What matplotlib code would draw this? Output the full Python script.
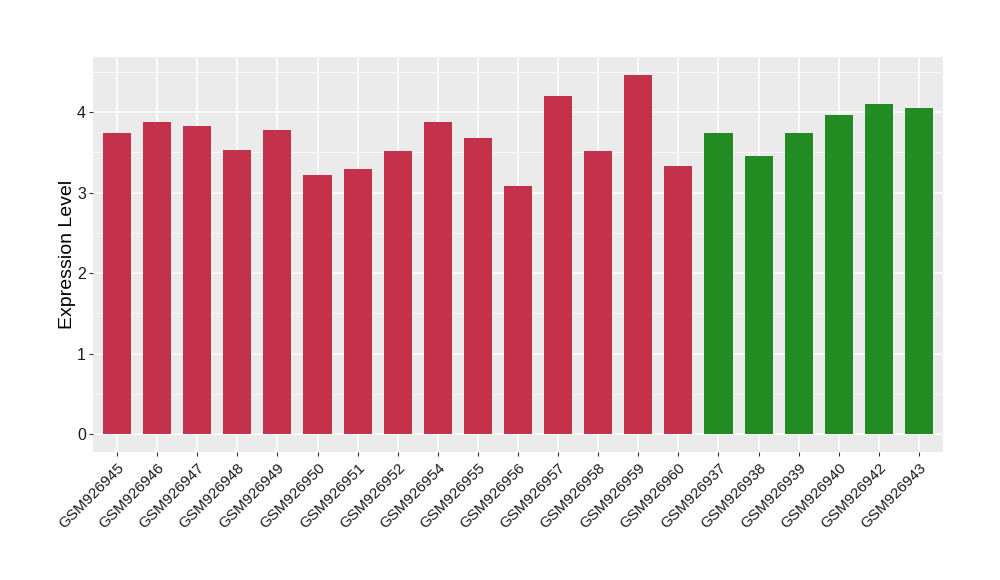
import numpy as np
import matplotlib
matplotlib.use('Agg')
import matplotlib.pyplot as plt

plt.rcParams['font.family'] = ['Liberation Sans', 'DejaVu Sans']

# samples and expression values
samples = ['GSM926945', 'GSM926946', 'GSM926947', 'GSM926948', 'GSM926949',
           'GSM926950', 'GSM926951', 'GSM926952', 'GSM926954', 'GSM926955',
           'GSM926956', 'GSM926957', 'GSM926958', 'GSM926959', 'GSM926960',
           'GSM926937', 'GSM926938', 'GSM926939', 'GSM926940', 'GSM926942',
           'GSM926943']
values = [3.74, 3.88, 3.83, 3.53, 3.78, 3.22, 3.29, 3.52, 3.88, 3.68,
          3.08, 4.20, 3.52, 4.46, 3.33, 3.74, 3.45, 3.74, 3.96, 4.10, 4.05]
groups = ['a'] * 15 + ['b'] * 6
group_colors = {'a': '#C3314A', 'b': '#228B22'}

fig = plt.figure(figsize=(10, 5.8), dpi=100)
ax = fig.add_axes([0.093, 0.2207, 0.85, 0.681])
ax.set_facecolor('#EBEBEB')

x = np.arange(len(samples))
ax.bar(x, values, width=0.7, color=[group_colors[g] for g in groups], zorder=3)

vmax = max(values)
ax.set_xlim(-0.6, len(samples) - 0.4)
ax.set_ylim(-0.05 * vmax, vmax * 1.05)

# ggplot-like grid
ax.set_yticks([0, 1, 2, 3, 4])
ax.set_yticks([0.5, 1.5, 2.5, 3.5, 4.5], minor=True)
ax.set_xticks(x)
ax.grid(which='major', color='white', linewidth=1.1, zorder=0)
ax.grid(which='minor', axis='y', color='white', linewidth=0.5, zorder=0)
ax.set_axisbelow(True)
for s in ax.spines.values():
    s.set_visible(False)

ax.tick_params(which='major', length=3, pad=2, color='#333333', labelcolor='#1a1a1a')
ax.tick_params(axis='y', labelsize=11.5)
ax.tick_params(axis='x', labelsize=11, pad=3)
ax.tick_params(which='minor', length=0)
ax.set_xticklabels(samples, rotation=45, ha='right', va='top', rotation_mode='anchor')
ax.set_ylabel('Expression Level', fontsize=14, labelpad=1)

plt.savefig('out.png', dpi=100)
